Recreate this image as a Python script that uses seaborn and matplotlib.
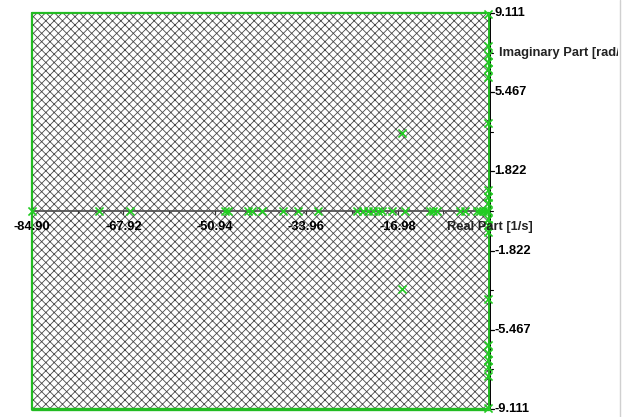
import matplotlib
matplotlib.use("Agg")
import matplotlib.pyplot as plt
from matplotlib.patches import Rectangle
from matplotlib.lines import Line2D
from matplotlib.transforms import Bbox
import numpy as np
import pandas as pd
import seaborn as sns

# Pole locations: real part [1/s], imaginary part [rad/s]
real_axis_poles = [-84.90, -72.45, -66.70, -49.04, -48.49, -44.77, -44.03, -42.17,
                   -38.27, -35.48, -31.76, -24.52, -23.40, -22.47, -21.54, -20.61,
                   -19.87, -18.01, -15.60, -10.95, -10.40, -9.65, -5.38, -4.45,
                   -2.22, -1.67, -1.11, -0.56, -0.19]
pair_real = [-16.20, -0.15, -0.20, -0.20, -0.15, -0.15, -0.20, -0.20, -0.15, -0.10, -0.12]
pair_imag = [3.57, 9.06, 7.60, 7.18, 6.86, 6.55, 6.17, 4.05, 0.97, 0.64, 0.35]

x_ticks = [-84.90, -67.92, -50.94, -33.96, -16.98]
x_tick_labels = ["-84.90", "-67.92", "-50.94", "-33.96", "-16.98"]
y_ticks = [9.111, 5.467, 1.822, -1.822, -5.467, -9.111]
y_tick_labels = ["9.111", "5.467", "1.822", "-1.822", "-5.467", "-9.111"]
x_label = "Real Part [1/s]"
y_label = "Imaginary Part [rad/s]"

re = list(real_axis_poles) + list(pair_real) + list(pair_real)
im = [0.0] * len(real_axis_poles) + list(pair_imag) + [-v for v in pair_imag]
poles = pd.DataFrame({"re": re, "im": im})

sns.set_theme(style="white")
plt.rcParams["font.family"] = ["Liberation Sans", "DejaVu Sans"]
plt.rcParams["hatch.linewidth"] = 0.6

W, H = 634, 417
fig = plt.figure(figsize=(W / 100, H / 100), dpi=100)
ax = fig.add_axes([32 / W, 1 - 409 / H, (489 - 32) / W, (409 - 13) / H])
ax.set_facecolor("none")

xmin, xmax = -84.90, 0.0
ymin, ymax = -9.111, 9.111
ax.set_xlim(xmin, xmax)
ax.set_ylim(ymin, ymax)

# cross-hatched plot area
ax.add_patch(Rectangle((0, 0), 1, 1, transform=ax.transAxes, facecolor="white",
                       edgecolor="#4a4a4a", hatch="xxxx", linewidth=0, zorder=0))

green = "#22bb22"
for side in ["left", "top", "bottom", "right"]:
    ax.spines[side].set_visible(False)
ax.plot([xmin, xmin], [ymin, ymax], color=green, lw=1.6, clip_on=False, zorder=4)
ax.plot([xmin, xmax], [ymax, ymax], color=green, lw=1.6, clip_on=False, zorder=4)
ax.plot([xmin, xmax], [ymin, ymin], color=green, lw=2.4, clip_on=False, zorder=4)

# real axis at Im = 0
ax.axhline(0, color="#555555", lw=1.3, zorder=2)
# imaginary axis at Re = 0
ax.plot([0.25, 0.25], [ymin, ymax], color="black", lw=1.4, clip_on=False, zorder=3)
ax.plot([xmax, xmax], [ymin, ymax], color=green, lw=1.4, clip_on=False, zorder=4)

ax.set_xticks([])
ax.set_yticks([])

# x ticks and labels along the real axis
for xv, lab in zip(x_ticks, x_tick_labels):
    ax.plot([xv, xv], [0, -0.12], color="#333333", lw=0.9, zorder=2)
    ax.text(xv, -0.45, lab, ha="center", va="top", fontsize=9.3,
            fontweight="bold", color="black", zorder=6)
for xv in np.array(x_ticks) + 8.49:
    ax.plot([xv, xv], [0, -0.08], color="#333333", lw=0.8, zorder=2)

# y ticks and labels right of the imaginary axis
for yv, lab in zip(y_ticks, y_tick_labels):
    ax.plot([0.25, 1.0], [yv, yv], color="black", lw=0.9, clip_on=False, zorder=3)
    ax.text(1.05, yv, lab, ha="left", va="center", fontsize=9.3,
            fontweight="bold", color="black", clip_on=False)
for yv in [7.289, 3.644, 0.0, -3.644, -7.289]:
    ax.plot([0.25, 0.7], [yv, yv], color="black", lw=0.8, clip_on=False, zorder=3)

ax.text(-7.8, -0.45, x_label, ha="left", va="top", fontsize=9.3,
        fontweight="bold", color="#222222", zorder=6)
ylab = ax.text(1.9, 7.25, y_label, ha="left", va="center", fontsize=9.3,
               fontweight="bold", color="#222222", clip_on=True)
ylab.set_clip_box(Bbox([[0, 0], [618, H]]))

sns.scatterplot(data=poles, x="re", y="im", marker="x", color="#22cc22",
                s=34, linewidth=1.2, ax=ax, clip_on=False, zorder=5, legend=False)
ax.set_xlabel("")
ax.set_ylabel("")

fig.add_artist(Line2D([620 / W, 620 / W], [0, 1], transform=fig.transFigure,
                      color="#d0d0d0", lw=1.0))

fig.savefig("out.png", dpi=100)
